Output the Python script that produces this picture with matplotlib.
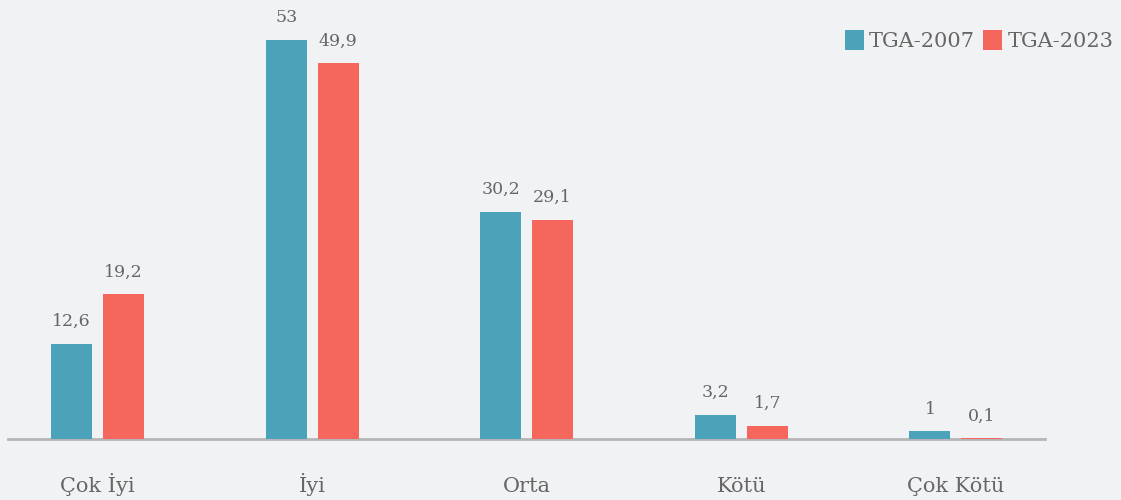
import numpy as np
import matplotlib.pyplot as plt

categories = ['Çok İyi', 'İyi', 'Orta', 'Kötü', 'Çok Kötü']
tga_2007 = [12.6, 53, 30.2, 3.2, 1]
tga_2023 = [19.2, 49.9, 29.1, 1.7, 0.1]
series_names = ['TGA-2007', 'TGA-2023']

bg = '#f1f2f4'
teal = '#4aa3b9'
red = '#f5665d'
txt = '#666666'

plt.rcParams['font.family'] = ['DejaVu Serif']

fig = plt.figure(figsize=(11.21, 5), dpi=100, facecolor=bg)
ax = fig.add_axes([8/1121, 61/500, 1037/1121, 439/500])
ax.set_facecolor(bg)

x = np.arange(len(categories))
w = 0.191
off = 0.121
b1 = ax.bar(x - off, tga_2007, w, color=teal, label=series_names[0], zorder=3)
b2 = ax.bar(x + off, tga_2023, w, color=red, label=series_names[1], zorder=3)

def fmt(v):
    s = ('%g' % v)
    return s.replace('.', ',')

for bars, vals in ((b1, tga_2007), (b2, tga_2023)):
    for r, v in zip(bars, vals):
        ax.annotate(fmt(v), (r.get_x() + r.get_width()/2, v), xytext=(0, 10),
                    textcoords='offset points', ha='center', va='bottom',
                    fontsize=12.5, color=txt)

ax.set_xlim(-0.417, 4.415)
ax.set_ylim(0, 58.3)
ax.set_yticks([])
ax.set_xticks(x)
ax.set_xticklabels(categories, fontsize=15, color=txt, va='baseline')
ax.tick_params(axis='x', length=0, pad=38)
for s in ['top', 'right', 'left']:
    ax.spines[s].set_visible(False)
ax.spines['bottom'].set_color('#b5b5b5')
ax.spines['bottom'].set_linewidth(2)
ax.spines['bottom'].set_zorder(2)

leg = fig.legend(loc='upper right', bbox_to_anchor=(1132/1121, 1 - 11/500), ncol=2,
                 frameon=False, handlelength=0.9, handleheight=1.1, handletextpad=0.25,
                 columnspacing=0.4, fontsize=15)
for t in leg.get_texts():
    t.set_color(txt)

fig.savefig('out.png', dpi=100, facecolor=bg)
